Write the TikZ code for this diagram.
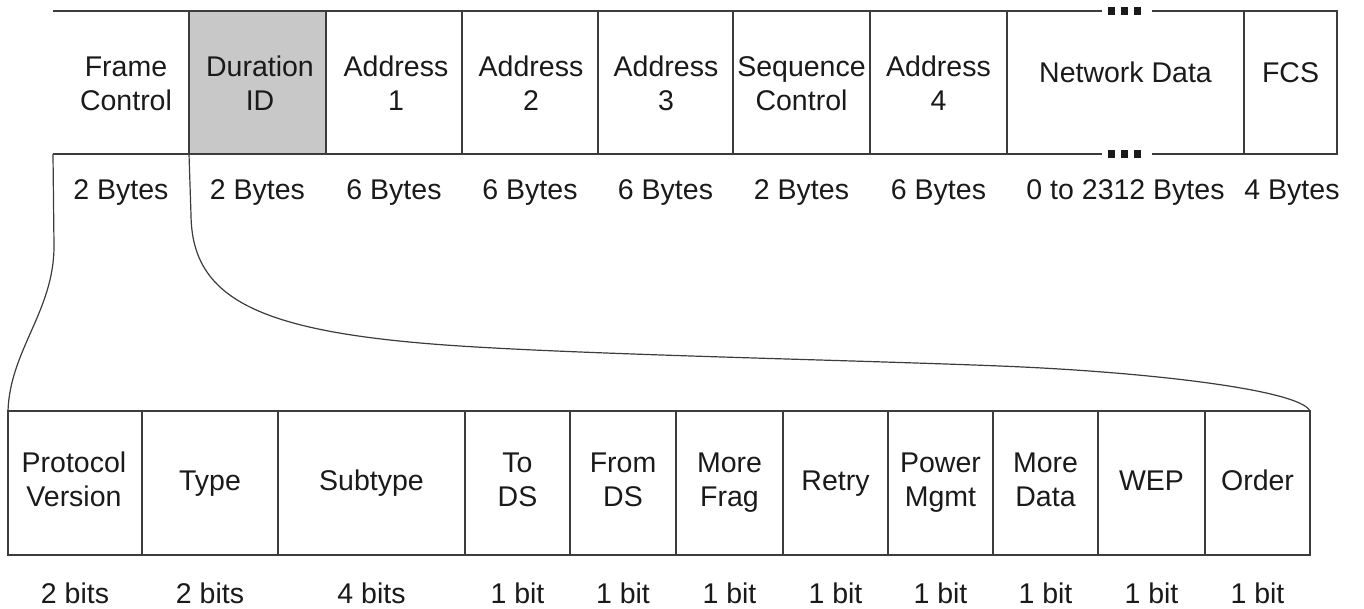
\documentclass[tikz,border=0pt]{standalone}
\usepackage{fontspec}
\setmainfont{Liberation Sans}
\definecolor{ln}{HTML}{3C3C3C}
\definecolor{shade}{HTML}{C8C8C8}
\definecolor{ink}{HTML}{1A1A1A}
\newcommand\twoline[2]{\strut#1\\\strut#2}
\newcommand\oneline[1]{\strut#1}
\begin{document}
\begin{tikzpicture}[x=1pt,y=-1pt,
  edge/.style={draw=ln, line width=1.4pt},
  cellbox/.style={rectangle, inner sep=0pt, outer sep=0pt, minimum height=#1},
  topcell/.style={cellbox=143pt, minimum width=#1},
  botcell/.style={cellbox=144pt, minimum width=#1, draw=ln, line width=1.4pt},
  txt/.style={inner sep=0pt, align=center, text=ink, font=\fontsize{28.5}{34}\selectfont},
  conn/.style={draw=ln, line width=1.2pt}]
\useasboundingbox (0,0) rectangle (1364,608);

% ---- top row cells ----
\node[topcell=136pt] (fc) at (121,82.5) {};
\node[topcell=137pt, fill=shade, draw=ln, line width=1.4pt] (di) at (257.5,82.5) {};
\node[topcell=136pt, draw=ln, line width=1.4pt] (a1) at (394,82.5) {};
\node[topcell=136pt, draw=ln, line width=1.4pt] (a2) at (530,82.5) {};
\node[topcell=135pt, draw=ln, line width=1.4pt] (a3) at (665.5,82.5) {};
\node[topcell=137pt, draw=ln, line width=1.4pt] (sc) at (801.5,82.5) {};
\node[topcell=137pt, draw=ln, line width=1.4pt] (a4) at (938.5,82.5) {};
\node[topcell=237pt] (nd) at (1125.5,82.5) {};
\node[topcell=93pt, draw=ln, line width=1.4pt] (fcs) at (1290.5,82.5) {};

% open edges
\draw[edge] (fc.north west) -- (fc.north east);
\draw[edge] (fc.south west) -- (fc.south east);
\draw[edge] (nd.north west) -- ([xshift=-23.5pt]nd.north);
\draw[edge] ([xshift=26.5pt]nd.north) -- (nd.north east);
\draw[edge] (nd.south west) -- ([xshift=-23.5pt]nd.south);
\draw[edge] ([xshift=26.5pt]nd.south) -- (nd.south east);
\foreach \d in {-14,-1,12}{
  \fill[ink] ([xshift=\d pt]nd.north) +(-3.6,-3.6) rectangle +(3.6,3.6);
  \fill[ink] ([xshift=\d pt]nd.south) +(-3.6,-3.6) rectangle +(3.6,3.6);
}

% top row texts
\node[txt] (fct) at (126,86.2) {\twoline{Frame}{Control}};
\node[txt] (dit) at (260,86.2) {\twoline{Duration}{ID}};
\node[txt] (a1t) at (396,86.2) {\twoline{Address}{1}};
\node[txt] (a2t) at (531,86.2) {\twoline{Address}{2}};
\node[txt] (a3t) at (666,86.2) {\twoline{Address}{3}};
\node[txt] (sct) at (801.5,86.2) {\twoline{Sequence}{Control}};
\node[txt] (a4t) at (938.5,86.2) {\twoline{Address}{4}};
\node[txt] (ndt) at (1125.5,75.5) {\oneline{Network Data}};
\node[txt] (fcst) at (1290.5,75.5) {\oneline{FCS}};

% top row sizes
\node[txt] (fcs1) at (121,193) {\oneline{2 Bytes}};
\node[txt] (dis) at (257.5,193) {\oneline{2 Bytes}};
\node[txt] (a1s) at (394,193) {\oneline{6 Bytes}};
\node[txt] (a2s) at (530,193) {\oneline{6 Bytes}};
\node[txt] (a3s) at (665.5,193) {\oneline{6 Bytes}};
\node[txt] (scs) at (801.5,193) {\oneline{2 Bytes}};
\node[txt] (a4s) at (938.5,193) {\oneline{6 Bytes}};
\node[txt] (nds) at (1125.5,193) {\oneline{0 to 2312 Bytes}};
\node[txt] (fcss) at (1292,193) {\oneline{4 Bytes}};

% ---- bottom row cells ----
\node[botcell=134pt] (pv) at (75,483) {};
\node[botcell=136pt] (ty) at (210,483) {};
\node[botcell=187pt] (st) at (371.5,483) {};
\node[botcell=105pt] (tds) at (517.5,483) {};
\node[botcell=106pt] (fds) at (623,483) {};
\node[botcell=107pt] (mf) at (729.5,483) {};
\node[botcell=105pt] (re) at (835.5,483) {};
\node[botcell=105pt] (pm) at (940.5,483) {};
\node[botcell=105pt] (md) at (1045.5,483) {};
\node[botcell=107pt] (wep) at (1151.5,483) {};
\node[botcell=105pt] (ord) at (1257.5,483) {};

% bottom row texts
\node[txt] (pvt) at (74,482.5) {\twoline{Protocol}{Version}};
\node[txt] (tyt) at (210,484) {\oneline{Type}};
\node[txt] (stt) at (371.5,484) {\oneline{Subtype}};
\node[txt] (tdst) at (517.5,482.5) {\twoline{To}{DS}};
\node[txt] (fdst) at (623,482.5) {\twoline{From}{DS}};
\node[txt] (mft) at (729.5,482.5) {\twoline{More}{Frag}};
\node[txt] (ret) at (835.5,484) {\oneline{Retry}};
\node[txt] (pmt) at (940.5,482.5) {\twoline{Power}{Mgmt}};
\node[txt] (mdt) at (1045.5,482.5) {\twoline{More}{Data}};
\node[txt] (wept) at (1151.5,484) {\oneline{WEP}};
\node[txt] (ordt) at (1257.5,484) {\oneline{Order}};

% bottom row sizes
\node[txt] (pvs) at (75,596.5) {\oneline{2 bits}};
\node[txt] (tys) at (210,596.5) {\oneline{2 bits}};
\node[txt] (sts) at (371.5,596.5) {\oneline{4 bits}};
\node[txt] (tdss) at (517.5,596.5) {\oneline{1 bit}};
\node[txt] (fdss) at (623,596.5) {\oneline{1 bit}};
\node[txt] (mfs) at (729.5,596.5) {\oneline{1 bit}};
\node[txt] (res) at (835.5,596.5) {\oneline{1 bit}};
\node[txt] (pms) at (940.5,596.5) {\oneline{1 bit}};
\node[txt] (mds) at (1045.5,596.5) {\oneline{1 bit}};
\node[txt] (weps) at (1151.5,596.5) {\oneline{1 bit}};
\node[txt] (ords) at (1257.5,596.5) {\oneline{1 bit}};

% ---- expansion connectors ----
\draw[conn] (fc.south west) -- ++(1,92)
  .. controls +(0,65) and +(2,-61) .. (pv.north west);
\draw[conn] (di.south west) -- ++(2,61)
  .. controls (192,300) and (260,333) .. (460,346)
  .. controls (600,355) and (850,360) .. (1000,366)
  .. controls (1150,372) and (1300,390) .. (ord.north east);
\end{tikzpicture}
\end{document}
